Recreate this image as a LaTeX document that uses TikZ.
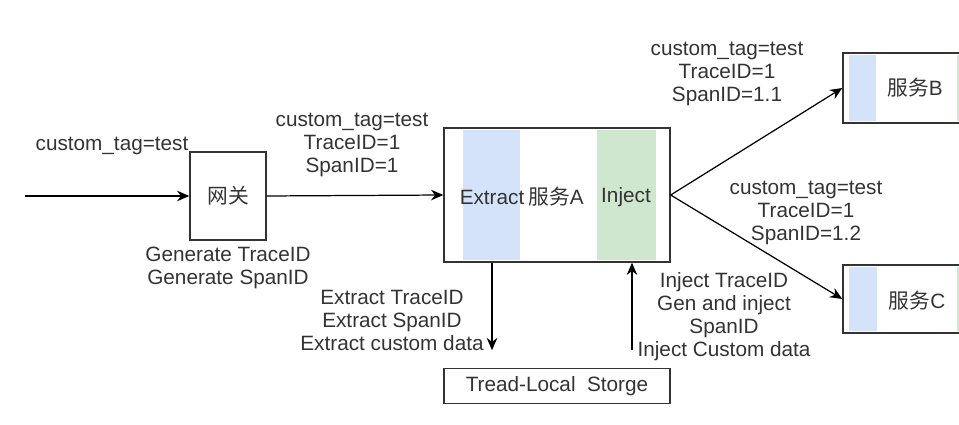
\documentclass[tikz,border=0pt]{standalone}
\usepackage{fontspec}
\setmainfont{Liberation Sans}
\newfontfamily\cjk{Noto Sans CJK SC}
\usepackage{tikz}
\usetikzlibrary{arrows.meta}

\definecolor{extblue}{HTML}{D4E3FA}
\definecolor{injgreen}{HTML}{D0E7CF}
\definecolor{inkgray}{HTML}{333333}

\tikzset{
	box/.style={draw=inkgray, line width=0.8pt, inner sep=0pt},
	lbl/.style={align=center, text=inkgray, inner sep=0pt,
		font=\fontsize{11.8}{13.1}\selectfont},
	flow/.style={->, line width=0.7pt, draw=black}
}

\begin{document}
\begin{tikzpicture}[x=0.02cm, y=-0.02cm, >={Stealth[length=7pt,width=6pt]}]
		\useasboundingbox (0,0) rectangle (959,425);

		% stripes inside the services
		\fill[extblue] (463,130) rectangle (520,260);
		\fill[injgreen] (597,130) rectangle (656,260);
		\fill[extblue] (849,55) rectangle (876,121);
		\fill[injgreen] (957,55) rectangle (990,121);
		\fill[extblue] (849,267) rectangle (877,331);
		\fill[injgreen] (957,267) rectangle (990,331);

		% boxes
		\node[box, minimum width=1.52cm, minimum height=1.76cm, lbl] (gw) at (228,196) {{\cjk 网关}};
		\node[box, minimum width=4.52cm, minimum height=2.68cm] (svcA) at (557,195) {};
		\node[lbl] (ext) at (492,197) {Extract};
		\node[lbl] (nameA) at (556,197) {{\cjk 服务}A};
		\node[lbl] (inj) at (626,197) {Inject};
		\node[box, minimum width=2.76cm, minimum height=1.4cm] (svcB) at (912,88) {};
		\node[lbl] (nameB) at (915,88) {{\cjk 服务}B};
		\node[box, minimum width=2.76cm, minimum height=1.36cm] (svcC) at (912,299) {};
		\node[lbl] (nameC) at (917,301) {{\cjk 服务}C};
		\node[box, minimum width=4.52cm, minimum height=0.7cm, lbl] (store) at (557,386) {Tread-Local\ \ Storge};

		% connectors
		\coordinate (src) at (25,196);
		\draw[flow] (src) -- (gw.west);
		\draw[flow] (gw.east) -- (svcA.west);
		\draw[flow] (svcA.east) -- (svcB.west);
		\draw[flow] (svcA.east) -- (svcC.west);
		\draw[flow, shorten >=10pt] ([xshift=-1.3cm]svcA.south) -- ([xshift=-1.3cm]store.north);
		\draw[flow, shorten <=10pt] ([xshift=1.5cm]store.north) -- ([xshift=1.5cm]svcA.south);

		% texts
		\node[lbl] (tag0) at (112,146) {custom\_tag=test};
		\node[lbl] (gen) at (228,268) {Generate TraceID\\Generate SpanID};
		\node[lbl] (tagA) at (352,145) {custom\_tag=test\\TraceID=1\\SpanID=1};
		\node[lbl] (tagB) at (727,74) {custom\_tag=test\\TraceID=1\\SpanID=1.1};
		\node[lbl] (tagC) at (806,213) {custom\_tag=test\\TraceID=1\\SpanID=1.2};
		\node[lbl] (extl) at (392,320) {Extract TraceID\\Extract SpanID\\Extract custom data};
		\node[lbl] (injl) at (724,317) {Inject TraceID\\Gen and inject\\SpanID\\Inject Custom data};
	\end{tikzpicture}
\end{document}
